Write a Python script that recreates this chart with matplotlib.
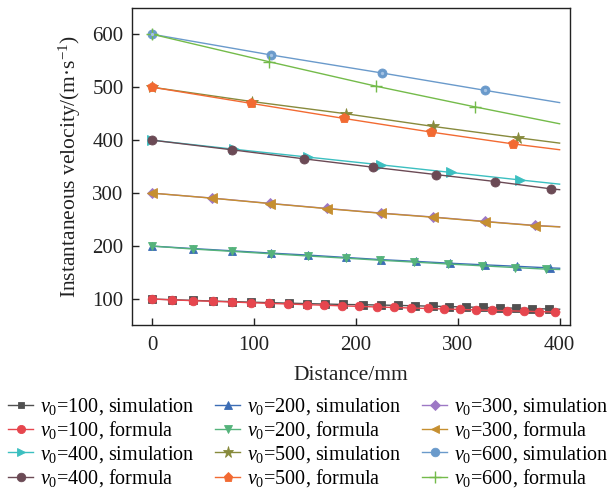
import matplotlib
matplotlib.use("Agg")
import matplotlib.pyplot as plt

plt.rcParams["font.family"] = ["Liberation Serif", "DejaVu Serif"]
plt.rcParams["mathtext.fontset"] = "custom"
plt.rcParams["mathtext.rm"] = "Liberation Serif"
plt.rcParams["mathtext.it"] = "Liberation Serif:italic"

# Distance (mm) and instantaneous velocity (m/s) for each initial velocity
x100_sim = [0, 19.6, 39.5, 59.1, 78.1, 96.8, 115.5, 133.8, 151.8, 169.5, 187.5, 206.5,
            224.2, 240.9, 257.8, 275.2, 291.5, 308.5, 324.8, 341.2, 357.5, 373.2, 389.5, 400]
v100_sim = [100, 98.8, 97.5, 96.3, 95.2, 94.2, 93.2, 92.3, 91.4, 90.6, 89.8, 89.3,
            88.7, 88.0, 87.3, 86.5, 85.8, 85.0, 84.2, 83.5, 82.8, 82.0, 81.3, 80.8]
x100_for = [0, 19.6, 39.5, 59.1, 78.1, 96.8, 115.0, 133.6, 151.7, 169.0, 186.0, 203.0,
            220.3, 237.3, 254.0, 270.3, 286.3, 302.0, 317.6, 333.6, 348.7, 364.7, 379.7, 395.1, 400]
v100_for = [100, 98.4, 97.0, 95.7, 94.4, 93.1, 91.8, 90.6, 89.4, 88.3, 87.2, 86.1,
            85.1, 84.1, 83.1, 82.2, 81.3, 80.4, 79.5, 78.7, 77.9, 77.1, 76.3, 75.6, 75.4]

x200_sim = [0, 39.5, 78.7, 116.4, 153.2, 189.9, 224.5, 258.8, 292.8, 326.5, 358.5, 390.9, 400]
v200_sim = [200, 195.4, 191.1, 186.8, 183.0, 178.6, 174.5, 171.2, 167.6, 164.6, 161.8, 158.8, 158.2]
x200_for = [0, 39.5, 78.7, 116.4, 153.2, 189.9, 223.5, 256.9, 290.5, 323.9, 355.9, 386.9, 400]
v200_for = [200, 194.5, 190.0, 185.5, 181.3, 177.2, 173.3, 169.8, 166.2, 162.8, 159.5, 156.5, 155.8]

x300_sim = [0, 58.5, 115.7, 171.3, 224.5, 275.8, 326.5, 375.5, 400]
v300_sim = [300, 290.7, 280.6, 271.1, 262.4, 254.9, 246.6, 239.1, 236.6]
x300_for = [0, 58.5, 115.7, 171.3, 224.5, 275.8, 326.5, 375.5, 400]
v300_for = [300, 290.5, 280.3, 270.8, 262.0, 254.5, 246.2, 238.7, 236.2]

x400_sim = [0, 80.0, 153.2, 224.2, 293.8, 360.8, 400]
v400_sim = [400, 383.0, 368.0, 353.5, 339.0, 325.0, 317.0]
x400_for = [0, 78.1, 149.0, 216.4, 278.4, 337.0, 391.9, 400]
v400_for = [400, 381.9, 364.8, 349.1, 335.1, 321.9, 308.0, 306.6]

x500_sim = [0, 97.7, 189.9, 275.8, 359.1, 400]
v500_sim = [500, 473.0, 450.0, 426.0, 404.6, 394.5]
x500_for = [0, 97.1, 188.5, 273.5, 354.2, 400]
v500_for = [500, 469.5, 441.0, 415.4, 393.0, 382.0]

x600_sim = [0, 116.4, 225.2, 327.2, 400]
v600_sim = [600, 561.0, 527.0, 494.0, 471.0]
x600_for = [0, 115.0, 219.6, 316.7, 400]
v600_for = [600, 548.0, 502.0, 463.0, 431.0]

series = [
    (x100_sim, v100_sim, "100", "simulation", "#505050", "s", 5.2),
    (x100_for, v100_for, "100", "formula", "#e6464e", "o", 6.2),
    (x200_sim, v200_sim, "200", "simulation", "#3c6db5", "^", 6.2),
    (x200_for, v200_for, "200", "formula", "#55b37b", "v", 6.2),
    (x300_sim, v300_sim, "300", "simulation", "#9d78c5", "D", 5.0),
    (x300_for, v300_for, "300", "formula", "#c68f30", "<", 6.8),
    (x400_sim, v400_sim, "400", "simulation", "#3bbfc0", ">", 6.8),
    (x400_for, v400_for, "400", "formula", "#6b4a55", "o", 6.5),
    (x500_sim, v500_sim, "500", "simulation", "#878a3c", "*", 8.5),
    (x500_for, v500_for, "500", "formula", "#f26a32", "p", 7.0),
    (x600_sim, v600_sim, "600", "simulation", "#6a9acb", "o", 6.5),
    (x600_for, v600_for, "600", "formula", "#74bb4a", "+", 8.5),
]

fig = plt.figure(figsize=(6.14, 4.88), dpi=100)
ax = fig.add_axes([0.215, 0.334, 0.713, 0.650])

handles = {}
for xs, vs, v0, kind, color, marker, ms in series:
    (h,) = ax.plot(xs, vs, color=color, lw=1.0, marker=marker, ms=ms,
                   markevery=slice(0, len(xs) - 1),
                   mec=color, mfc=color, mew=1.0 if marker == "+" else 0.6,
                   label=r"$v_0$=" + v0 + ", " + kind)
    handles[(v0, kind)] = h

# soft highlight on the v0=600 simulation markers
ax.plot(x600_sim[:-1], v600_sim[:-1], ls="none", marker="o", ms=2.4,
        mfc="#a4c2e3", mec="none", zorder=h.get_zorder())

ax.set_xlim(-20, 410)
ax.set_ylim(51, 650)
ax.set_xticks([0, 100, 200, 300, 400])
ax.set_yticks([100, 200, 300, 400, 500, 600])
ax.tick_params(direction="in", length=5, width=1, labelsize=15, colors="#222222", pad=6)
ax.tick_params(axis="x", pad=8)
for sp in ax.spines.values():
    sp.set_linewidth(1.0)
    sp.set_color("#222222")
ax.set_xlabel("Distance/mm", fontsize=15.5, color="#222222", labelpad=8)
ax.set_ylabel(r"Instantaneous velocity/(m·s$^{-1}$)", fontsize=15.5, color="#222222", labelpad=7)

order = [("100", "simulation"), ("100", "formula"), ("400", "simulation"), ("400", "formula"),
         ("200", "simulation"), ("200", "formula"), ("500", "simulation"), ("500", "formula"),
         ("300", "simulation"), ("300", "formula"), ("600", "simulation"), ("600", "formula")]
leg_handles = [handles[k] for k in order]
fig.legend(leg_handles, [h.get_label() for h in leg_handles],
           loc="upper left", bbox_to_anchor=(0.013, 0.188), ncol=3, frameon=False,
           fontsize=14.5, handlelength=1.25, handletextpad=0.35, columnspacing=1.0,
           labelspacing=0.12, borderpad=0.0, borderaxespad=0.0, markerscale=0.95)

fig.savefig("out.png", dpi=100)
